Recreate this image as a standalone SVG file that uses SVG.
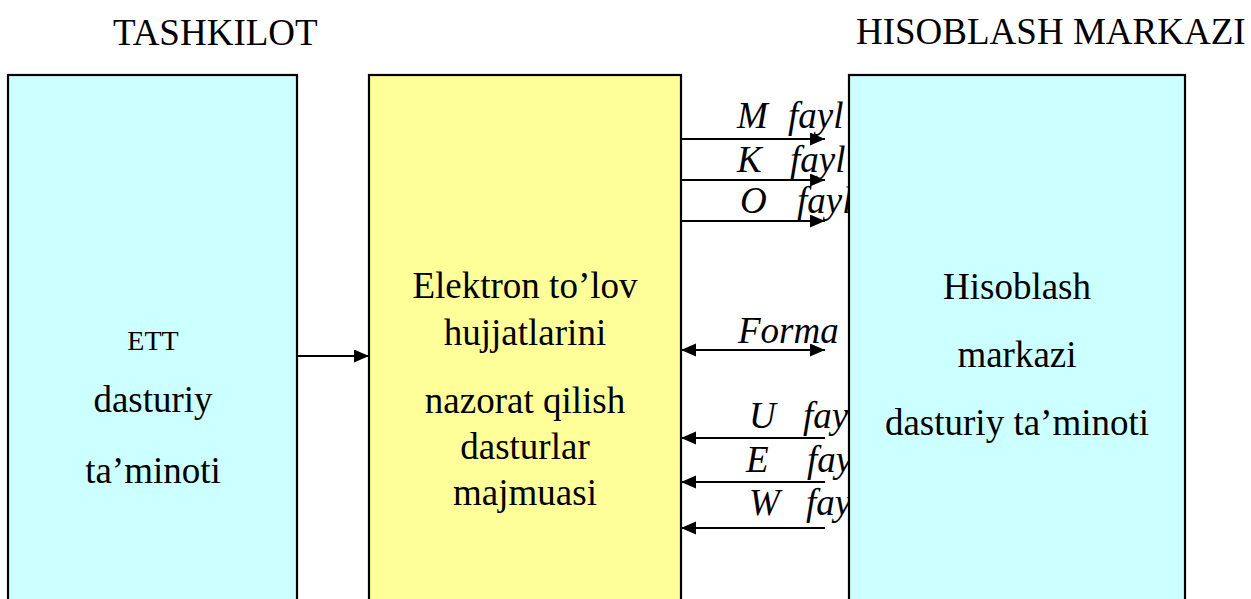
<svg xmlns="http://www.w3.org/2000/svg" width="1251" height="599" viewBox="0 0 1251 599">
<style>
  .box { stroke: #000; stroke-width: 2.2; }
  .cyan { fill: #CCFFFF; }
  .yellow { fill: #FFFF99; }
  text { font-family: 'Liberation Serif', 'DejaVu Serif', serif; font-size: 37px; fill: #000; }
  .c { text-anchor: middle; }
  .i { font-style: italic; }
  .ln { stroke: #000; stroke-width: 2.2; fill: none; marker-end: url(#ah); }
  .dbl { marker-start: url(#ah); }
</style>
<defs>
  <marker id="ah" markerUnits="userSpaceOnUse" markerWidth="16" markerHeight="14" refX="15" refY="6.5" orient="auto-start-reverse" viewBox="0 0 16 14">
    <path d="M0,0 L15,6.5 L0,13 z" fill="#000"/>
  </marker>
</defs>
<rect width="1251" height="599" fill="#fff"/>
<g id="titles">
  <text x="113" y="45">TASHKILOT</text>
  <text x="856" y="44">HISOBLASH MARKAZI</text>
</g>
<g id="tashkilot">
  <rect class="box cyan" x="8" y="75" width="289" height="560"/>
  <text class="c" x="153" y="350" style="font-size:28px">ETT</text>
  <text class="c" x="153" y="412">dasturiy</text>
  <text class="c" x="153" y="483">ta’minoti</text>
</g>
<g id="nazorat">
  <rect class="box yellow" x="369" y="75" width="312" height="560"/>
  <text class="c" x="525" y="298">Elektron to’lov</text>
  <text class="c" x="525" y="345">hujjatlarini</text>
  <text class="c" x="525" y="413">nazorat qilish</text>
  <text class="c" x="525" y="459">dasturlar</text>
  <text class="c" x="525" y="505">majmuasi</text>
</g>
<g id="connectors">
  <line class="ln" x1="297" y1="356" x2="369" y2="356"/>
  <line class="ln" x1="681" y1="139" x2="825" y2="139"/>
  <line class="ln" x1="681" y1="180" x2="825" y2="180"/>
  <line class="ln" x1="681" y1="221" x2="825" y2="221"/>
  <line class="ln dbl" x1="681" y1="350" x2="825" y2="350"/>
  <line class="ln" x1="825" y1="438" x2="681" y2="438"/>
  <line class="ln" x1="825" y1="482" x2="681" y2="482"/>
  <line class="ln" x1="825" y1="528" x2="681" y2="528"/>
  <g>
    <text class="i" x="737" y="128">M</text><text class="i" x="788" y="128">fayl</text>
    <text class="i" x="737" y="172">K</text><text class="i" x="790" y="172">fayl</text>
    <text class="i" x="740" y="213">O</text><text class="i" x="797" y="213">fayl</text>
    <text class="i" x="738" y="343">Forma</text>
    <text class="i" x="749" y="428">U</text><text class="i" x="803" y="428">fayl</text>
    <text class="i" x="746" y="472">E</text><text class="i" x="807" y="472">fayl</text>
    <text class="i" x="749" y="515">W</text><text class="i" x="806" y="515">fayl</text>
  </g>
</g>
<g id="hisoblash">
  <rect class="box cyan" x="849" y="75" width="336" height="560"/>
  <text class="c" x="1017" y="299">Hisoblash</text>
  <text class="c" x="1017" y="367">markazi</text>
  <text class="c" x="1017" y="435">dasturiy ta’minoti</text>
</g>
</svg>
